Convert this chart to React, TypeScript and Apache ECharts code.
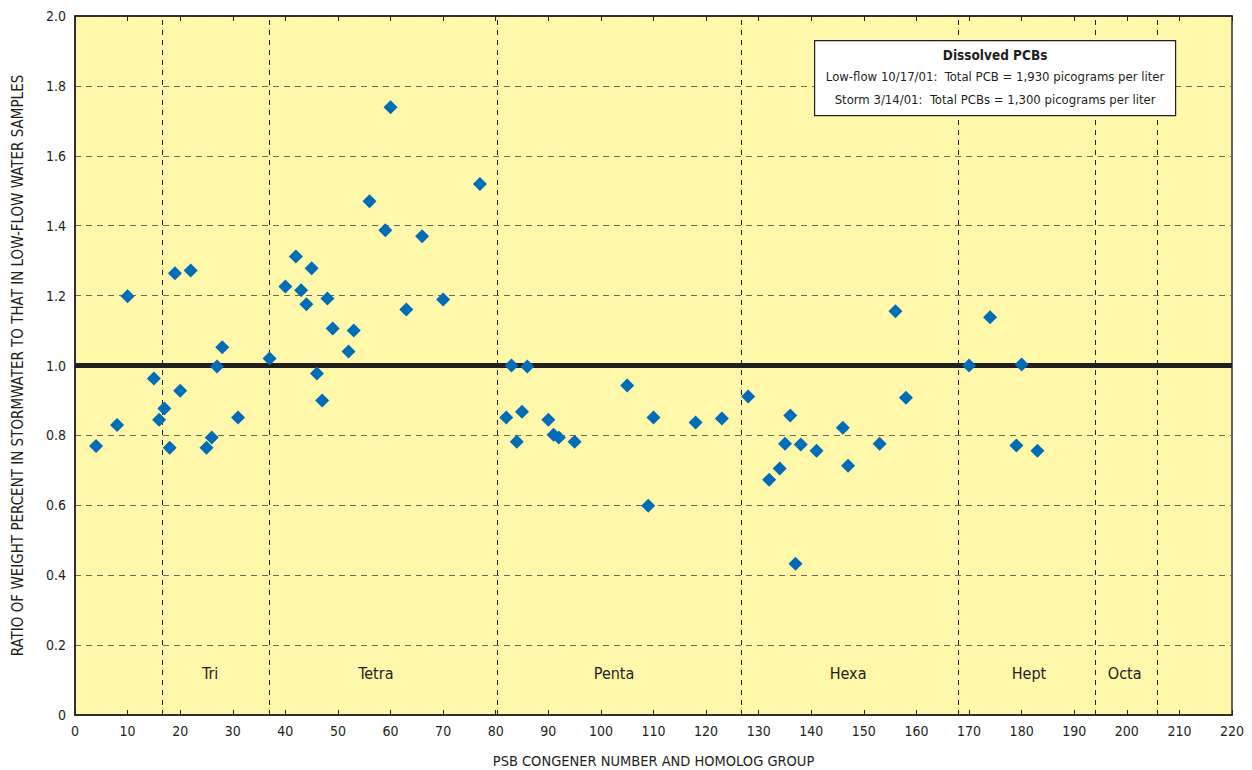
import React, { useEffect, useRef } from "react";
import * as echarts from "echarts";

const congeners = [4, 8, 10, 15, 16, 17, 18, 19, 20, 22, 25, 26, 27, 28, 31, 37, 40, 42, 43, 44, 45, 46, 47, 48, 49, 52, 53, 56, 59, 60, 63, 66, 70, 77, 82, 83, 84, 85, 86, 90, 91, 92, 95, 105, 109, 110, 118, 123, 128, 132, 134, 135, 136, 137, 138, 141, 146, 147, 153, 156, 158, 170, 174, 179, 180, 183];
const ratios = [0.77, 0.83, 1.198, 0.963, 0.845, 0.877, 0.765, 1.264, 0.928, 1.272, 0.765, 0.794, 0.997, 1.052, 0.851, 1.02, 1.226, 1.312, 1.215, 1.175, 1.278, 0.977, 0.9, 1.192, 1.106, 1.04, 1.1, 1.47, 1.387, 1.739, 1.16, 1.37, 1.189, 1.519, 0.851, 1.0, 0.782, 0.868, 0.997, 0.845, 0.802, 0.794, 0.782, 0.943, 0.599, 0.851, 0.837, 0.848, 0.911, 0.673, 0.705, 0.776, 0.857, 0.433, 0.774, 0.756, 0.822, 0.713, 0.776, 1.155, 0.908, 1.0, 1.138, 0.771, 1.003, 0.756];

const groupBoundaries = [16.5, 37, 80.2, 126.6, 168, 194, 205.8];
const groupNames = ["Tri", "Tetra", "Penta", "Hexa", "Hept", "Octa"];
const groupLabelX = [25.7, 57.2, 102.5, 147, 181.4, 199.6];
const groupLabelY = 0.12;

const legendTitle = "Dissolved PCBs";
const legendLines = [
  "Low-flow 10/17/01:  Total PCB = 1,930 picograms per liter",
  "Storm 3/14/01:  Total PCBs = 1,300 picograms per liter",
];

const FONT = "'Liberation Sans Narrow', 'DejaVu Sans Condensed', 'Roboto', sans-serif";

export default function App() {
  const ref = useRef<HTMLDivElement>(null);
  useEffect(() => {
    if (!ref.current) return;
    const chart = echarts.init(ref.current, null, { renderer: "svg" });
    const points = congeners.map((c, i) => [c, ratios[i]]);
    const labelPts = groupNames.map((n, i) => ({ name: n, value: [groupLabelX[i], groupLabelY] }));
    chart.setOption({
      animation: false,
      backgroundColor: "#ffffff",
      textStyle: { fontFamily: FONT },
      grid: {
        left: 75,
        right: 20,
        top: 16,
        bottom: 55,
        containLabel: false,
        outerBoundsMode: "none",
        show: true,
        backgroundColor: "#FFF7AA",
        borderColor: "#333333",
        borderWidth: 1.5,
      },
      xAxis: [
        {
          type: "value",
          min: 0,
          max: 220,
          interval: 10,
          name: "PSB CONGENER NUMBER AND HOMOLOG GROUP",
          nameLocation: "middle",
          nameGap: 38,
          nameTextStyle: { fontFamily: FONT, fontSize: 14.5, color: "#231F20" },
          axisLine: { show: true, lineStyle: { color: "#231F20", width: 1.5 } },
          axisTick: { show: true, inside: true, length: 5, lineStyle: { color: "#231F20" } },
          axisLabel: { fontFamily: FONT, fontSize: 14, color: "#231F20", margin: 9 },
          splitLine: { show: false },
        },
        {
          type: "value",
          position: "top",
          min: 0,
          max: 220,
          interval: 10,
          axisLine: { show: true, lineStyle: { color: "#231F20", width: 1.5 } },
          axisTick: { show: true, inside: true, length: 5, lineStyle: { color: "#231F20" } },
          axisLabel: { show: false },
          splitLine: { show: false },
        },
      ],
      yAxis: {
        type: "value",
        min: 0,
        max: 2,
        interval: 0.2,
        name: "RATIO OF WEIGHT PERCENT IN STORMWATER TO THAT IN LOW-FLOW WATER SAMPLES",
        nameLocation: "middle",
        nameGap: 50,
        nameTextStyle: { fontFamily: FONT, fontSize: 15, color: "#231F20" },
        axisLine: { show: true, lineStyle: { color: "#231F20", width: 1.5 } },
        axisTick: { show: false },
        axisLabel: {
          fontFamily: FONT,
          fontSize: 14,
          color: "#231F20",
          margin: 9,
          formatter: (v: number) => (v === 0 ? "0" : v.toFixed(1)),
        },
        splitLine: { show: true, lineStyle: { color: "#6f6a55", type: [6, 5], width: 1.2 } },
      },
      series: [
        {
          type: "scatter",
          data: points,
          symbol: "diamond",
          symbolSize: 14,
          itemStyle: { color: "#006DB8", opacity: 1 },
          z: 5,
          markLine: {
            silent: true,
            symbol: "none",
            label: { show: false },
            data: [
              ...groupBoundaries.map((b) => ({
                xAxis: b,
                lineStyle: { color: "#231F20", type: [5, 5], width: 1 },
              })),
              {
                yAxis: 1.0,
                lineStyle: { color: "#231F20", type: "solid", width: 5 },
              },
            ],
          },
        },
        {
          type: "scatter",
          data: labelPts,
          symbolSize: 0,
          silent: true,
          itemStyle: { opacity: 1 },
          label: {
            show: true,
            position: "inside",
            formatter: (p: any) => p.name,
            fontFamily: FONT,
            fontSize: 16,
            color: "#231F20",
          },
        },
      ],
      graphic: [
        {
          type: "group",
          left: 814,
          top: 40,
          z: 100,
          children: [
            {
              type: "rect",
              z: 100,
              shape: { x: 0, y: 0, width: 361, height: 75 },
              style: { fill: "#ffffff", stroke: "#231F20", lineWidth: 1.2 },
            },
            {
              type: "text",
              z: 101,
              x: 180.5,
              y: 14,
              style: {
                text: legendTitle,
                fontFamily: FONT,
                fontWeight: "bold",
                fontSize: 13.5,
                fill: "#231F20",
                textAlign: "center",
                textVerticalAlign: "middle",
              },
            },
            ...legendLines.map((t, i) => ({
              type: "text",
              z: 101,
              x: 180.5,
              y: 36 + i * 23,
              style: {
                text: t,
                fontFamily: FONT,
                fontSize: 13,
                fill: "#231F20",
                textAlign: "center",
                textVerticalAlign: "middle",
              },
            })),
          ],
        },
      ],
    });
    return () => chart.dispose();
  }, []);
  return (
    <div
      ref={ref}
      style={{ position: "fixed", left: 0, top: 0, width: 1252, height: 770 }}
    />
  );
}
